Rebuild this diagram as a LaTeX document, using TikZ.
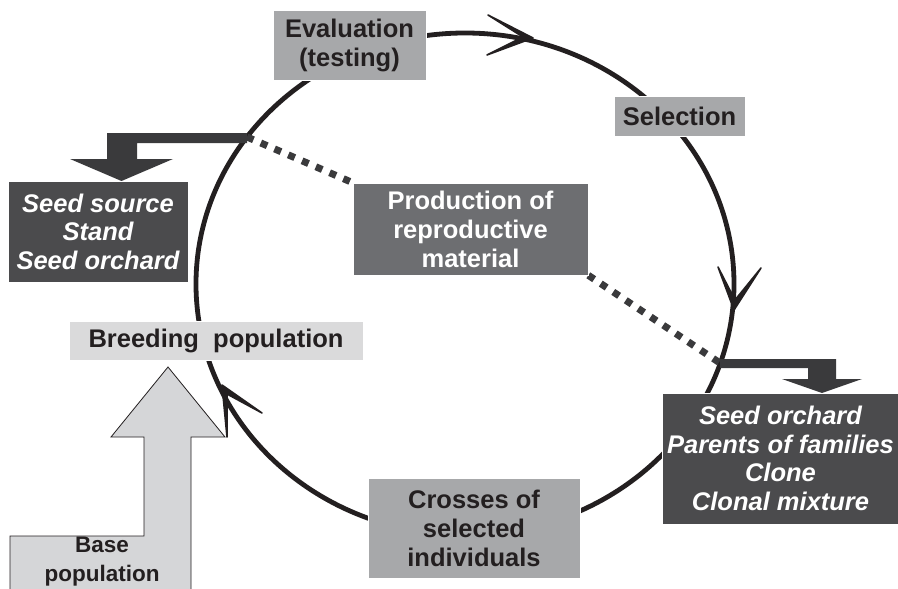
\documentclass[tikz,border=0pt]{standalone}
\usepackage{fontspec}
\setmainfont{Liberation Sans}
\usetikzlibrary{backgrounds}
\definecolor{lg}{HTML}{A7A8AA}
\definecolor{mg}{HTML}{6D6E71}
\definecolor{dg}{HTML}{4B4B4D}
\definecolor{pg}{HTML}{DADADB}
\definecolor{bg}{HTML}{D5D6D8}
\definecolor{ink}{HTML}{231F20}
\definecolor{arr}{HTML}{3A3A3C}
\begin{document}
\begin{tikzpicture}[x=1pt,y=-1pt,
  box/.style={rectangle, inner sep=0pt, align=center, font=\fontsize{25.5}{29}\selectfont\bfseries, draw=white, line width=0.6pt},
  lightbox/.style={box, fill=lg, text=ink},
  midbox/.style={box, fill=mg, text=white},
  palebox/.style={box, fill=pg, text=ink},
  darkbox/.style={box, fill=dg, text=white, font=\fontsize{25.5}{28.5}\selectfont\bfseries\itshape},
  cyc/.style={draw=ink, line width=4.8pt},
  dots/.style={draw=arr, line width=7pt, dash pattern=on 7pt off 8pt},
  head/.style={fill=ink, draw=ink, line width=1.6pt, line join=round},
  fat/.style={fill=arr},
  bigarrow/.style={fill=bg, draw=ink, line width=0.8pt, line join=miter}
]
\useasboundingbox (0,0) rectangle (898,589);

% nodes
\node[lightbox, minimum width=153pt, minimum height=70pt] (eval) at (349.5,45) {Evaluation\\(testing)};
\node[lightbox, minimum width=131pt, minimum height=40pt] (sel) at (679.5,116) {Selection};
\node[midbox, minimum width=235pt, minimum height=92pt] (prod) at (470.5,229) {Production of\\reproductive\\material};
\node[darkbox, minimum width=180pt, minimum height=101pt] (ss) at (98,231.5) {Seed source\\Stand\\Seed orchard};
\node[palebox, minimum width=294pt, minimum height=39pt] (breed) at (216,340.5) {Breeding\ \ population};
\node[lightbox, minimum width=212pt, minimum height=100pt] (cross) at (474,528) {Crosses of\\selected\\individuals};
\node[darkbox, minimum width=236pt, minimum height=131pt] (so) at (780.5,458.5) {Seed orchard\\Parents of families\\Clone\\Clonal mixture};

% base population arrow
\draw[bigarrow] (10,595) -- (10,536) -- (144,536) -- (144,437) -- (111,437) -- (168,367) -- (225,437) -- (191,437) -- (191,595) -- cycle;
\node[font=\fontsize{22.5}{29}\selectfont\bfseries, text=ink, align=center, inner sep=0pt] (base) at (102,562) {Base\\population};

\coordinate (jL) at (247,137);
\coordinate (jR) at (720,363);

\begin{scope}[on background layer]
  \fill[white] (0,0) rectangle (898,589);
  \draw[cyc] (465,284) ellipse [x radius=269, y radius=251];
  % cycle arrowheads
  \filldraw[head] (533,38) -- (488,15) -- (523,37) -- (487,55) -- cycle;
  \filldraw[head] (734,310) -- (718,267) -- (735,300) -- (761,268) -- cycle;
  \filldraw[head] (222,385) -- (227,437) -- (227,394) -- (262,413) -- cycle;
  % dotted links
  \draw[dots] (jL) -- (prod.north west);
  \draw[dots] (prod.south east) -- (jR);
  % output arrows
  \fill[fat] (jL |- 0,133) -- (107,133) -- (107,159) -- (70,159) -- (121.5,181) -- (173,159) -- (137,159) -- (137,143) -- (jL |- 0,143) -- cycle;
  \fill[fat] (jR |- 0,359) -- (836,359) -- (836,379) -- (862,379) -- (822,393) -- (782,379) -- (808,379) -- (808,368) -- (jR |- 0,368) -- cycle;
\end{scope}
\end{tikzpicture}
\end{document}
